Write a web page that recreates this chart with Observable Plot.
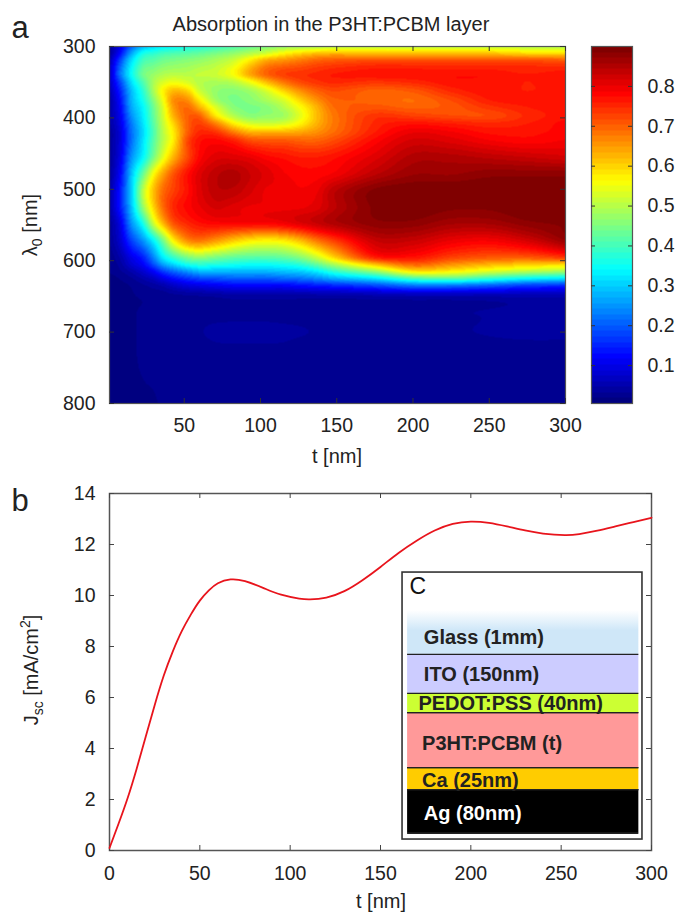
<!DOCTYPE html>
<html><head><meta charset="utf-8">
<script src="https://cdn.jsdelivr.net/npm/d3@7"></script>
<script src="https://cdn.jsdelivr.net/npm/@observablehq/plot@0.6"></script>
<style>
html,body{margin:0;padding:0;background:#fff}
#page{position:relative;width:678px;height:912px;overflow:hidden;font-family:"Liberation Sans",Arial,sans-serif;color:#222}
#page svg{position:absolute;background:transparent;font-family:"Liberation Sans",Arial,sans-serif}
.t{position:absolute;white-space:nowrap;line-height:1}
.rot{transform:translate(-50%,-50%) rotate(-90deg)}
.ctr{transform:translate(-50%,-50%)}
sub,sup{font-size:70%;line-height:0}
</style></head><body><div id="page"></div>
<script>
// Panel a: absorption
const thickness = [1,8,15,23,30,36,43,52,60,71,82,93,104,115,126,137,148,175,200,225,250,275,300];
const wavelength = [300,310,320,338,350,362,375,385,397,408,420,432,455,478,502,525,548,572,595,605,615,625,635,650,675,700,725,800];
const absorption = [
[.03,.10,.20,.28,.31,.33,.34,.36,.37,.39,.41,.43,.45,.47,.48,.49,.50,.51,.51,.51,.51,.50,.50],
[.03,.13,.26,.36,.38,.40,.41,.42,.43,.45,.47,.50,.53,.57,.60,.62,.63,.62,.62,.62,.62,.60,.60],
[.05,.18,.31,.40,.42,.44,.45,.46,.47,.49,.52,.58,.64,.66,.68,.70,.71,.72,.72,.72,.72,.72,.71],
[.06,.22,.34,.44,.47,.49,.50,.50,.51,.52,.56,.64,.70,.73,.74,.75,.76,.77,.77,.77,.77,.76,.77],
[.06,.18,.31,.41,.49,.53,.55,.53,.50,.49,.50,.55,.62,.68,.72,.74,.75,.74,.75,.77,.77,.76,.77],
[.05,.15,.28,.38,.49,.57,.62,.60,.52,.47,.46,.48,.53,.60,.66,.70,.72,.70,.71,.75,.77,.76,.77],
[.04,.13,.27,.36,.46,.55,.66,.66,.58,.48,.45,.46,.49,.53,.60,.66,.70,.70,.69,.72,.76,.77,.77],
[.04,.12,.26,.34,.44,.53,.65,.69,.63,.53,.46,.45,.46,.50,.56,.63,.69,.71,.70,.71,.74,.76,.77],
[.04,.11,.24,.33,.43,.52,.63,.70,.70,.58,.50,.46,.47,.48,.54,.62,.68,.74,.73,.72,.72,.75,.77],
[.04,.10,.22,.32,.42,.51,.60,.70,.73,.67,.58,.53,.52,.53,.57,.63,.68,.75,.77,.76,.75,.76,.78],
[.03,.09,.21,.31,.41,.50,.58,.70,.75,.74,.68,.63,.63,.63,.64,.66,.69,.76,.80,.79,.77,.77,.78],
[.03,.09,.21,.32,.42,.50,.58,.72,.77,.78,.76,.72,.71,.71,.70,.70,.72,.78,.82,.81,.79,.78,.79],
[.03,.10,.24,.34,.45,.54,.63,.72,.78,.81,.81,.80,.78,.77,.76,.76,.77,.81,.85,.85,.84,.83,.82],
[.03,.12,.28,.43,.56,.64,.71,.77,.81,.84,.85,.83,.81,.79,.78,.78,.79,.84,.87,.87,.88,.88,.88],
[.04,.14,.29,.50,.62,.69,.73,.77,.81,.84,.84,.82,.80,.80,.79,.80,.84,.89,.90,.90,.90,.90,.90],
[.04,.14,.28,.47,.60,.69,.75,.78,.80,.82,.81,.80,.80,.80,.80,.81,.84,.89,.90,.89,.89,.90,.90],
[.03,.10,.24,.36,.52,.62,.71,.75,.77,.78,.78,.78,.78,.79,.81,.83,.85,.88,.88,.86,.86,.88,.89],
[.03,.08,.17,.25,.34,.44,.57,.66,.68,.65,.61,.58,.57,.58,.62,.68,.73,.83,.83,.80,.79,.82,.87],
[.02,.05,.10,.15,.24,.33,.39,.45,.47,.45,.43,.42,.42,.43,.46,.52,.60,.76,.77,.73,.71,.71,.74],
[.02,.04,.08,.12,.19,.26,.31,.36,.38,.37,.36,.35,.35,.36,.38,.43,.49,.62,.70,.66,.63,.61,.60],
[.02,.03,.05,.08,.12,.17,.21,.25,.28,.28,.28,.28,.28,.29,.30,.33,.38,.47,.58,.57,.53,.50,.48],
[.012,.02,.03,.05,.07,.10,.13,.16,.18,.19,.20,.20,.20,.21,.22,.24,.27,.32,.40,.42,.38,.34,.32],
[.012,.015,.02,.03,.04,.05,.07,.09,.10,.11,.12,.12,.12,.12,.13,.14,.15,.18,.22,.22,.20,.17,.16],
[.012,.015,.018,.02,.022,.024,.028,.03,.032,.035,.04,.04,.04,.04,.04,.04,.04,.045,.05,.05,.05,.05,.05],
[.012,.015,.018,.02,.022,.024,.026,.028,.03,.03,.03,.03,.03,.03,.03,.03,.03,.03,.03,.03,.035,.04,.04],
[.012,.015,.018,.02,.022,.024,.026,.03,.032,.036,.038,.038,.038,.036,.034,.032,.03,.028,.028,.03,.035,.04,.04],
[.012,.015,.018,.02,.022,.024,.026,.026,.028,.03,.03,.03,.03,.03,.028,.028,.026,.024,.024,.024,.024,.024,.024],
[.012,.015,.018,.018,.018,.02,.02,.02,.02,.02,.02,.02,.02,.02,.02,.02,.02,.02,.02,.02,.02,.02,.02]
];
const tTicksA = [50,100,150,200,250,300];
const lambdaTicks = [300,400,500,600,700,800];
const barTicks = [.1,.2,.3,.4,.5,.6,.7,.8];

// Panel b: current density
const tCurve = [0,5,10,15,20,25,30,35,40,45,50,55,60,67,75,85,95,105,111,120,130,140,150,160,170,180,190,200,210,220,230,240,252,260,270,280,290,300];
const jsc = [.1,1.05,2.05,3.2,4.45,5.7,6.85,7.8,8.6,9.25,9.8,10.2,10.48,10.63,10.56,10.3,10.03,9.88,9.85,9.92,10.17,10.6,11.12,11.67,12.15,12.55,12.81,12.9,12.85,12.71,12.55,12.43,12.37,12.41,12.54,12.71,12.88,13.05];
const tTicksB = [0,50,100,150,200,250,300];
const jTicks = [0,2,4,6,8,10,12,14];

// Inset c: device stack
const layerNames = ["Glass (1mm)","ITO (150nm)","PEDOT:PSS (40nm)","P3HT:PCBM (t)","Ca (25nm)","Ag (80nm)"];
const layerTop = [9.41,7.69,6.16,5.41,3.25,2.39];
const layerBottom = [7.69,6.16,5.41,3.25,2.39,.67];
const layerFill = ["url(#glassFade)","#ccccff","#ccff33","#ff9999","#ffcc00","#000000"];
const layerText = ["#222","#222","#222","#222","#222","#fff"];
const labelT = [174,174,171,173,173,174];
const labelJ = [8.35,6.9,5.76,4.2,2.75,1.45];
const layers = layerNames.map((name,i)=>({name,top:layerTop[i],bottom:layerBottom[i],fill:layerFill[i],text:layerText[i],t:labelT[i],j:labelJ[i]}));

// MATLAB-style 64-level jet
const jetBase = d3.scaleLinear().domain([0,.125,.375,.625,.875,1])
  .range(["#000080","#0000ff","#00ffff","#ffff00","#ff0000","#800000"]).interpolate(d3.interpolateRgb);
const jet = t => jetBase(Math.min(63,Math.floor(t*64))/63);
const colorScale = {type:"linear",domain:[.005,.9],interpolate:jet,clamp:true};

// Smooth rendering between the grid readings
function hermite(xs,ys,x){
  const n=xs.length; let i=d3.bisectRight(xs,x)-1; i=Math.max(0,Math.min(n-2,i));
  const h=xs[i+1]-xs[i], u=(x-xs[i])/h;
  const m0=i>0?(ys[i+1]-ys[i-1])/(xs[i+1]-xs[i-1]):(ys[i+1]-ys[i])/h;
  const m1=i<n-2?(ys[i+2]-ys[i])/(xs[i+2]-xs[i]):(ys[i+1]-ys[i])/h;
  const u2=u*u,u3=u2*u;
  return (2*u3-3*u2+1)*ys[i]+(u3-2*u2+u)*h*m0+(-2*u3+3*u2)*ys[i+1]+(u3-u2)*h*m1;
}
const absorptionAt=(t,l)=>hermite(wavelength,absorption.map(r=>hermite(thickness,r,t)),l);

const fs=19.5, ink="#222", frameInk="#555";
const page=document.getElementById("page");
function place(svg,left,top){svg.style.left=left+"px";svg.style.top=top+"px";page.appendChild(svg);}
function label(html,x,y,size,cls){const d=document.createElement("div");d.className="t "+(cls||"ctr");d.style.left=x+"px";d.style.top=y+"px";d.style.fontSize=size+"px";d.innerHTML=html;page.appendChild(d);}

// Panel a
const hA=470,wA=590;
place(Plot.plot({
  width:wA,height:hA,marginLeft:109,marginRight:25,marginTop:46,marginBottom:hA-403,style:{fontSize:fs+"px",background:"transparent"},
  x:{domain:[1,300]},y:{domain:[300,800],reverse:true},color:colorScale,
  marks:[
    Plot.raster({fill:absorptionAt,x1:1,x2:300,y1:300,y2:800,pixelSize:1}),
    Plot.frame({stroke:frameInk,strokeWidth:1.2}),
    Plot.ruleX(tTicksA,{x:d=>d,insetTop:hA-46-(hA-403)-5,stroke:"#333"}),
    Plot.ruleX(tTicksA,{x:d=>d,insetBottom:hA-46-(hA-403)-5,stroke:"#333"}),
    Plot.ruleY(lambdaTicks,{y:d=>d,insetRight:456-5,stroke:"#333"}),
    Plot.ruleY(lambdaTicks,{y:d=>d,insetLeft:456-5,stroke:"#333"}),
    Plot.axisX(tTicksA,{anchor:"bottom",tickSize:0,tickPadding:15,label:null,color:ink,fontSize:fs}),
    Plot.axisY(lambdaTicks,{anchor:"left",tickSize:0,tickPadding:14,label:null,color:ink,fontSize:fs})
  ]
}),0,0);

// Colour bar
const hC=470;
place(Plot.plot({
  width:118,height:hC,marginLeft:31,marginRight:46,marginTop:46,marginBottom:hC-403,style:{fontSize:fs+"px",background:"transparent"},
  x:{domain:[0,1],axis:null},y:{domain:[.005,.9]},color:colorScale,
  marks:[
    Plot.raster({fill:(x,y)=>y,x1:0,x2:1,y1:.005,y2:.9,pixelSize:1}),
    Plot.frame({stroke:frameInk,strokeWidth:1.2}),
    Plot.ruleY(barTicks,{y:d=>d,insetRight:37,stroke:"#333"}),
    Plot.ruleY(barTicks,{y:d=>d,insetLeft:37,stroke:"#333"}),
    Plot.axisY(barTicks,{anchor:"right",tickSize:0,tickPadding:15,label:null,color:ink,fontSize:fs,tickFormat:d=>d.toFixed(1)})
  ]
}),560,0);

// Panel b
const hB=442,topB=470,tB=23,bB=62,innerB=hB-tB-bB;
place(Plot.plot({
  width:678,height:hB,marginLeft:109,marginRight:27,marginTop:tB,marginBottom:bB,style:{fontSize:fs+"px",background:"transparent"},
  x:{domain:[0,300]},y:{domain:[0,14]},
  marks:[
    Plot.frame({stroke:frameInk,strokeWidth:1.5}),
    Plot.ruleX(tTicksB,{x:d=>d,insetTop:innerB-5,stroke:"#444"}),
    Plot.ruleX(tTicksB,{x:d=>d,insetBottom:innerB-5,stroke:"#444"}),
    Plot.ruleY(jTicks,{y:d=>d,insetRight:542-5,stroke:"#444"}),
    Plot.ruleY(jTicks,{y:d=>d,insetLeft:542-5,stroke:"#444"}),
    Plot.line(tCurve,{x:d=>d,y:(d,i)=>jsc[i],stroke:"#e8141c",strokeWidth:1.8,curve:"natural"}),
    Plot.axisX(tTicksB,{anchor:"bottom",tickSize:0,tickPadding:16,label:null,color:ink,fontSize:fs}),
    Plot.axisY(jTicks,{anchor:"left",tickSize:0,tickPadding:14,label:null,color:ink,fontSize:fs}),
    // inset c
    Plot.rect([0],{x1:162.2,x2:295,y1:.43,y2:10.9,fill:"#fff",stroke:"#333",strokeWidth:1.6}),
    ()=>d3.create("svg:defs").html('<linearGradient id="glassFade" x1="0" y1="0" x2="0" y2="1"><stop offset="0" stop-color="#ffffff"/><stop offset="0.46" stop-color="#cfe7f8"/><stop offset="1" stop-color="#cfe7f8"/></linearGradient>').node(),
    Plot.rect(layers,{x1:165,x2:293,y1:"bottom",y2:"top",fill:"fill"}),
    Plot.ruleY(layers.slice(1),{y:"top",x1:165,x2:293,stroke:"#222",strokeWidth:1.2}),
    Plot.ruleY(layers.slice(2),{y:"bottom",x1:165,x2:293,stroke:"#222",strokeWidth:1.2}),
    Plot.text(layers,{x:"t",y:"j",text:"name",fill:"text",textAnchor:"start",fontWeight:"bold",fontSize:20}),
    Plot.text(["C"],{x:166,y:10.33,text:d=>d,textAnchor:"start",fill:"#111",fontSize:23})
  ]
}),0,topB);

// Labels
label("a",20,27,31);
label("b",20,500,31);
label("Absorption in the P3HT:PCBM layer",331,24,20);
label("t [nm]",337,456,20);
label("t [nm]",381,901,20);
label("λ<sub>0</sub> [nm]",30,225,20,"rot");
label("J<sub>sc</sub> [mA/cm<sup>2</sup>]",31,670,20,"rot");
</script></body></html>
